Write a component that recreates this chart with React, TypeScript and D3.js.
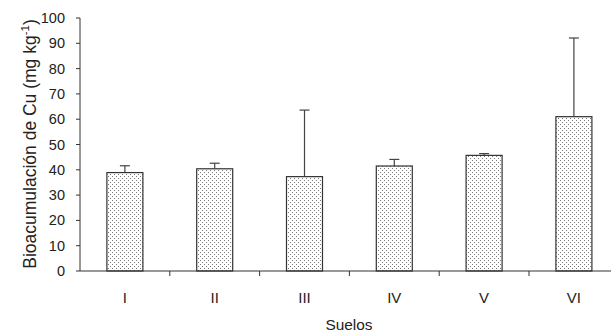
import React from "react";
import * as d3 from "d3";

// data
const suelos = ["I", "II", "III", "IV", "V", "VI"];
const media = [38.9, 40.4, 37.3, 41.5, 45.7, 61.0];
const errorSup = [41.6, 42.6, 63.6, 44.1, 46.4, 92.1];
const yTicks = [0, 10, 20, 30, 40, 50, 60, 70, 80, 90, 100];

const W = 611;
const H = 333;
const margin = { top: 18, left: 80, bottom: 62 };

export default function App() {
  const x = d3.scaleBand<string>().domain(suelos).range([margin.left, margin.left + 6 * 89.8]).paddingInner(0).paddingOuter(0);
  const y = d3.scaleLinear().domain([0, 100]).range([H - margin.bottom, margin.top]);
  const barW = 36;
  const font = "'Liberation Sans', Arial, sans-serif";
  const fs = 14.5;
  const y0 = y(0);

  return (
    <svg width={W} height={H} style={{ position: "absolute", left: 0, top: 0 }}>
      <defs>
        <pattern id="dots" width="4" height="4" patternUnits="userSpaceOnUse">
          <rect width="4" height="4" fill="#fff" />
          <rect x="0" y="0" width="1" height="1" fill="#7a7a7a" />
          <rect x="2" y="2" width="1" height="1" fill="#7a7a7a" />
        </pattern>
      </defs>
      <rect width={W} height={H} fill="#fff" />

      {/* bars */}
      {suelos.map((s, i) => {
        const cx = x(s)! + x.bandwidth() / 2;
        return (
          <g key={s}>
            <line x1={cx} x2={cx} y1={y(media[i])} y2={y(errorSup[i])} stroke="#444" strokeWidth={1.2} />
            <line x1={cx - 5} x2={cx + 5} y1={y(errorSup[i])} y2={y(errorSup[i])} stroke="#444" strokeWidth={1.2} />
            <rect x={cx - barW / 2} y={y(media[i])} width={barW} height={y0 - y(media[i])} fill="url(#dots)" stroke="#333" strokeWidth={1.2} />
          </g>
        );
      })}

      {/* y axis */}
      <line x1={margin.left} x2={margin.left} y1={y(100)} y2={y0} stroke="#333" strokeWidth={1} />
      {yTicks.map(t => (
        <g key={t}>
          <line x1={margin.left - 4} x2={margin.left} y1={y(t)} y2={y(t)} stroke="#333" />
          <text x={margin.left - 15} y={y(t)} dy="0.35em" textAnchor="end" fontFamily={font} fontSize={fs} fill="#222">{t}</text>
        </g>
      ))}

      {/* x axis */}
      <line x1={margin.left} x2={W} y1={y0} y2={y0} stroke="#333" strokeWidth={1} />
      {suelos.slice(1).map(s => (
        <line key={s} x1={x(s)!} x2={x(s)!} y1={y0} y2={y0 + 5} stroke="#333" />
      ))}
      {suelos.map(s => (
        <text key={s} x={x(s)! + x.bandwidth() / 2} y={y0 + 32} textAnchor="middle" fontFamily={font} fontSize={15} fill="#222">{s}</text>
      ))}

      <text x={349} y={330} textAnchor="middle" fontFamily={font} fontSize={15.4} fill="#222">Suelos</text>
      <text transform={`translate(36,144) rotate(-90)`} textAnchor="middle" fontFamily={font} fontSize={17.5} fill="#222">
        Bioacumulación de Cu (mg kg<tspan dy="-7" fontSize={11.5}>-1</tspan><tspan dy="7">)</tspan>
      </text>
    </svg>
  );
}
